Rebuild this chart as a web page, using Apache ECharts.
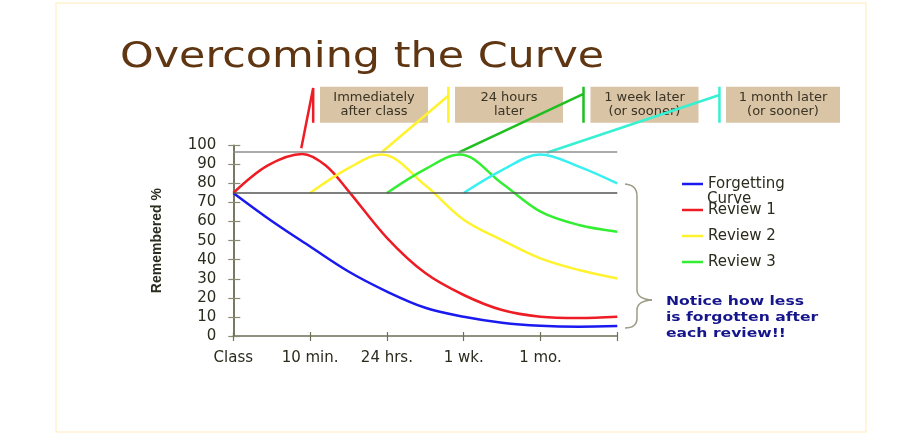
<!DOCTYPE html>
<html>
<head>
<meta charset="utf-8">
<script src="https://cdn.jsdelivr.net/npm/echarts@6/dist/echarts.min.js"></script>
<style>
html,body{margin:0;padding:0;background:#fff;}
#chart{width:910px;height:442px;}
</style>
</head>
<body>
<div id="chart"></div>
<script>
// ---- data ----
const categories = ['Class', '10 min.', '24 hrs.', '1 wk.', '1 mo.', ''];
const seriesNames = ['Forgetting Curve', 'Review 1', 'Review 2', 'Review 3', 'Review 4'];
const forgetting = [[0,75],[0.5,60.3],[1,46.9],[1.5,33.8],[2,23.3],[2.5,14.8],[3,10.1],[3.5,7],[4,5.4],[4.5,4.9],[5,5.2]];
const review1 = [[0,75],[0.45,89.5],[0.9,95.5],[1.2,89.5],[1.5,76],[2,51.5],[2.5,33],[3,21.5],[3.5,13.6],[4,10.1],[4.5,9.4],[5,10.1]];
const review2 = [[1,75],[1.5,88],[1.93,95.2],[2.5,79],[3,61],[3.5,50.3],[4,40.7],[4.5,34.6],[5,30.2]];
const review3 = [[2,75],[2.5,87.5],[2.95,95.2],[3.5,80],[4,65.2],[4.5,58.2],[5,54.7]];
const review4 = [[3,75],[3.5,87],[4,95.2],[4.5,88.8],[5,80]];
// pointer lines from each review peak up to its timing label (values above 100 lie above the plot)
const pointer1 = [[0.885,98.4],[1.04,130],[1.04,130.7],[1.04,111.8]];
const pointer2 = [[1.94,96.6],[2.80,126],[2.80,130.7],[2.80,111.8]];
const pointer3 = [[2.93,96.1],[4.56,127],[4.56,130.7],[4.56,111.8]];
const pointer4 = [[4.08,96.1],[6.33,126.4],[6.33,130.7],[6.33,111.8]];
const refLevels = [96.8, 75];
const reviewLabels = ['Immediately\nafter class', '24 hours\nlater', '1 week later\n(or sooner)', '1 month later\n(or sooner)'];
const noteText = 'Notice how less\nis forgotten after\neach review!!';
const titleText = 'Overcoming the Curve';

// ---- styles ----
const colors = ['#1a1af0', '#ee1c24', '#fff22e', '#33ee33', '#38f0f0'];
const pointerColors = ['#ee1c24', '#fff22e', '#1fbf1f', '#38f0d2'];
const labelFont = 'DejaVu Sans';

const chart = echarts.init(document.getElementById('chart'));

function curve(name, data, color, smooth) {
  return {
    name: name, type: 'line', data: data, smooth: smooth, showSymbol: false, symbol: 'none',
    lineStyle: { color: color, width: 2.5 }, itemStyle: { color: color }, silent: true, z: 3
  };
}
function pointer(data, color) {
  return {
    type: 'line', data: data, xAxisIndex: 2, yAxisIndex: 2, showSymbol: false, symbol: 'none', clip: false, silent: true,
    lineStyle: { color: color, width: 2.5 }, z: 2
  };
}

const series = [
  curve(seriesNames[0], forgetting, colors[0], 0.35),
  curve(seriesNames[1], review1, colors[1], 0.35),
  curve(seriesNames[2], review2, colors[2], 0.35),
  curve(seriesNames[3], review3, colors[3], 0.35),
  curve(seriesNames[4], review4, colors[4], 0.35),
  pointer(pointer1, pointerColors[0]),
  pointer(pointer2, pointerColors[1]),
  pointer(pointer3, pointerColors[2]),
  pointer(pointer4, pointerColors[3])
];
series[0].markLine = {
  silent: true, symbol: 'none', animation: false, label: { show: false },
  data: [
    { yAxis: refLevels[0], lineStyle: { color: '#8f8f8f', width: 1.5, type: 'solid' } },
    { yAxis: refLevels[1], lineStyle: { color: '#555', width: 1.5, type: 'solid' } }
  ]
};

const braceStyle = { fill: 'none', stroke: '#9c9c84', lineWidth: 1.5 };
const boxX = [320, 455, 590.5, 726];
const boxW = [108, 108, 108, 114];
const graphics = [
  { type: 'rect', shape: { x: 56, y: 3, width: 810, height: 429 }, style: { fill: 'none', stroke: '#fff2cf', lineWidth: 1.5 }, z: 0, silent: true },
  { type: 'text', x: 120, y: 58, scaleX: 1.225, style: { text: titleText, x: 0, y: 0, font: '35px "DejaVu Sans"', fill: '#5f3611', align: 'left', verticalAlign: 'middle' }, silent: true },
  { type: 'text', x: 707, y: 199, style: { text: 'Curve', font: '15px "DejaVu Sans"', fill: '#2b2b1e', align: 'left', verticalAlign: 'middle' }, silent: true },
  { type: 'text', x: 666, y: 318, scaleX: 1.2, style: { text: noteText, x: 0, y: 0, font: 'bold 13px "DejaVu Sans"', lineHeight: 16, fill: '#16168c', align: 'left', verticalAlign: 'middle' }, silent: true },
  { type: 'bezierCurve', shape: { x1: 625, y1: 184, cpx1: 637, cpy1: 185, x2: 637, y2: 196 }, style: braceStyle, silent: true },
  { type: 'line', shape: { x1: 637, y1: 196, x2: 637, y2: 290 }, style: braceStyle, silent: true },
  { type: 'bezierCurve', shape: { x1: 637, y1: 290, cpx1: 637, cpy1: 299, x2: 652, y2: 300 }, style: braceStyle, silent: true },
  { type: 'bezierCurve', shape: { x1: 652, y1: 300, cpx1: 637, cpy1: 301, x2: 637, y2: 310 }, style: braceStyle, silent: true },
  { type: 'line', shape: { x1: 637, y1: 310, x2: 637, y2: 318 }, style: braceStyle, silent: true },
  { type: 'bezierCurve', shape: { x1: 637, y1: 318, cpx1: 637, cpy1: 328, x2: 625, y2: 328 }, style: braceStyle, silent: true }
];
reviewLabels.forEach(function (t, i) {
  graphics.push({ type: 'rect', shape: { x: boxX[i], y: 86.7, width: boxW[i], height: 36 }, style: { fill: '#d9c4a6' }, silent: true, z: 1 });
  graphics.push({ type: 'text', x: boxX[i] + boxW[i] / 2, y: 104.7, style: { text: t, font: '13px "DejaVu Sans"', lineHeight: 14, fill: '#3a3324', align: 'center', verticalAlign: 'middle' }, silent: true, z: 2 });
});

const option = {
  animation: false,
  backgroundColor: '#ffffff',
  grid: [
    { left: 233.3, right: 292.7, top: 145.3, bottom: 106 },
    { left: 233.3, right: 139.1, top: 145.3, bottom: 106, show: false }
  ],
  legend: {
    data: seriesNames.slice(0, 4),
    orient: 'vertical', left: 682, top: 176, padding: 0, itemWidth: 21, itemHeight: 2.5, itemGap: 10,
    icon: 'rect',
    formatter: function (n) { return n === 'Forgetting Curve' ? 'Forgetting' : n; },
    textStyle: { fontFamily: labelFont, fontSize: 15, lineHeight: 16, color: '#2b2b1e' },
    selectedMode: false
  },
  xAxis: [{
    type: 'value', min: 0, max: 5, interval: 1,
    axisLine: { show: true, onZero: false, lineStyle: { color: '#6f6f58', width: 1.5 } },
    axisTick: { show: true, length: 5, lineStyle: { color: '#6f6f58', width: 1.2 } },
    axisLabel: { margin: 15, fontFamily: labelFont, fontSize: 15, color: '#2b2b1e', formatter: function (v) { return categories[Math.round(v)]; } },
    splitLine: { show: false }
  }, {
    type: 'value', min: 0, max: 5, interval: 1, position: 'bottom', offset: 0,
    axisLine: { show: false }, axisLabel: { show: false }, splitLine: { show: false },
    axisTick: { show: true, inside: true, length: 4, lineStyle: { color: '#6f6f58', width: 1.2 } }
  }, {
    type: 'value', gridIndex: 1, min: 0, max: 7, interval: 1, show: false
  }],
  yAxis: [{
    type: 'value', min: 0, max: 100, interval: 10,
    name: 'Remembered %', nameLocation: 'middle', nameGap: 69,
    nameTextStyle: { fontFamily: 'Liberation Sans', fontWeight: 'bold', fontSize: 14, color: '#2b2b1e' },
    axisLine: { show: true, onZero: false, lineStyle: { color: '#4b4b33', width: 1.5 } },
    axisTick: { show: true, length: 5, lineStyle: { color: '#8a8a76', width: 1.2 } },
    axisLabel: { margin: 17, fontFamily: labelFont, fontSize: 15, color: '#2b2b1e' },
    splitLine: { show: false }
  }, {
    type: 'value', min: 0, max: 100, interval: 10, position: 'left', offset: 0,
    axisLine: { show: false }, axisLabel: { show: false }, splitLine: { show: false },
    axisTick: { show: true, inside: true, length: 7, lineStyle: { color: '#8a8a76', width: 1.2 } }
  }, {
    type: 'value', gridIndex: 1, min: 0, max: 100, interval: 10, show: false
  }],
  series: series,
  graphic: graphics
};
chart.setOption(option);
</script>
</body>
</html>
